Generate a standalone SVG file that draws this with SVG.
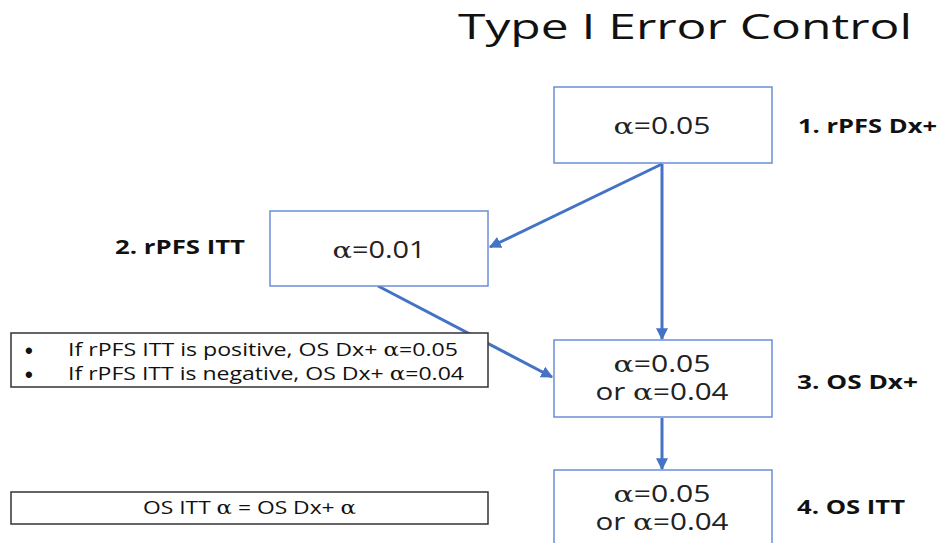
<svg xmlns="http://www.w3.org/2000/svg" width="941" height="543" viewBox="0 0 941 543">
  <style>
    .box { fill: #ffffff; stroke: #6a8fd6; stroke-width: 1.5; }
    .note { fill: #ffffff; stroke: #333333; stroke-width: 1.5; }
    .val { font-family: "Open Sans", "Liberation Sans", sans-serif; font-size: 23px; fill: #222222; text-anchor: middle; }
    .lbl { font-family: "Open Sans", "Liberation Sans", sans-serif; font-size: 20px; font-weight: bold; fill: #111111; }
    .txt { font-family: "Open Sans", "Liberation Sans", sans-serif; font-size: 18px; fill: #111111; }
    .bul { font-family: "Liberation Sans", sans-serif; font-size: 22px; font-weight: bold; fill: #111111; }
    .title { font-family: "Open Sans", "Liberation Sans", sans-serif; font-size: 35px; font-weight: 400; fill: #111111; }
    .gr { font-family: "DejaVu Serif", "Liberation Serif", serif; }
    .edge { stroke: #4472c4; stroke-width: 3; fill: none; marker-end: url(#arrow); }
  </style>
  <defs>
    <marker id="arrow" viewBox="0 0 10 10" refX="9" refY="5" markerWidth="4" markerHeight="4" orient="auto" markerUnits="strokeWidth">
      <path d="M0,0 L10,5 L0,10 z" fill="#4472c4"/>
    </marker>
  </defs>

  <rect width="941" height="543" fill="#ffffff"/>

  <text class="title" x="458" y="39" textLength="454" lengthAdjust="spacingAndGlyphs">Type I Error Control</text>

  <g id="connectors">
    <line class="edge" x1="662" y1="164" x2="662" y2="339"/>
    <line class="edge" x1="662" y1="164" x2="490" y2="247"/>
    <line class="edge" x1="378" y1="286" x2="552" y2="377"/>
    <line class="edge" x1="662" y1="418" x2="662" y2="469"/>
  </g>

  <g id="node1">
    <rect class="box" x="554" y="87" width="218" height="76"/>
    <text class="val" x="662" y="134" textLength="97" lengthAdjust="spacingAndGlyphs"><tspan class="gr">α</tspan>=0.05</text>
    <text class="lbl" x="798" y="133" textLength="139" lengthAdjust="spacingAndGlyphs">1. rPFS Dx+</text>
  </g>

  <g id="node2">
    <rect class="box" x="270" y="211" width="218" height="75"/>
    <text class="val" x="379" y="258" textLength="93" lengthAdjust="spacingAndGlyphs"><tspan class="gr">α</tspan>=0.01</text>
    <text class="lbl" x="115" y="254" textLength="130" lengthAdjust="spacingAndGlyphs">2. rPFS ITT</text>
  </g>

  <g id="node3">
    <rect class="box" x="554" y="340" width="218" height="77"/>
    <text class="val" x="662" y="372" textLength="97" lengthAdjust="spacingAndGlyphs"><tspan class="gr">α</tspan>=0.05</text>
    <text class="val" x="662" y="400" textLength="133" lengthAdjust="spacingAndGlyphs">or <tspan class="gr">α</tspan>=0.04</text>
    <text class="lbl" x="797" y="389" textLength="121" lengthAdjust="spacingAndGlyphs">3. OS Dx+</text>
  </g>

  <g id="node4">
    <rect class="box" x="554" y="470" width="218" height="80"/>
    <text class="val" x="662" y="502" textLength="97" lengthAdjust="spacingAndGlyphs"><tspan class="gr">α</tspan>=0.05</text>
    <text class="val" x="662" y="530" textLength="133" lengthAdjust="spacingAndGlyphs">or <tspan class="gr">α</tspan>=0.04</text>
    <text class="lbl" x="797" y="514" textLength="108" lengthAdjust="spacingAndGlyphs">4. OS ITT</text>
  </g>

  <g id="note-osdx">
    <rect class="note" x="11" y="333" width="477" height="54"/>
    <text class="bul" x="25" y="358">•</text>
    <text class="txt" x="68" y="356" textLength="390" lengthAdjust="spacingAndGlyphs">If rPFS ITT is positive, OS Dx+ <tspan class="gr">α</tspan>=0.05</text>
    <text class="bul" x="25" y="382">•</text>
    <text class="txt" x="68" y="380" textLength="396" lengthAdjust="spacingAndGlyphs">If rPFS ITT is negative, OS Dx+ <tspan class="gr">α</tspan>=0.04</text>
  </g>

  <g id="note-ositt">
    <rect class="note" x="11" y="492" width="477" height="32"/>
    <text class="txt" x="143" y="514" textLength="213" lengthAdjust="spacingAndGlyphs">OS ITT <tspan class="gr">α</tspan> = OS Dx+ <tspan class="gr">α</tspan></text>
  </g>
</svg>
